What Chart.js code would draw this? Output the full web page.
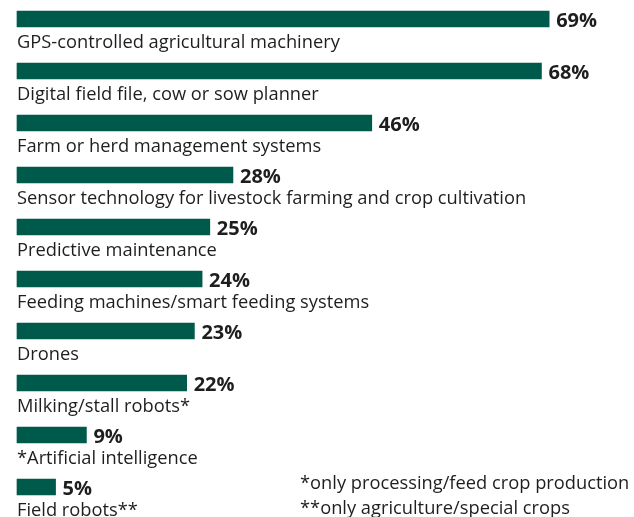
<!DOCTYPE html>
<html>
<head>
<meta charset="utf-8">
<script src="https://cdn.jsdelivr.net/npm/chart.js@4/dist/chart.umd.min.js"></script>
<style>
  html, body { margin: 0; padding: 0; background: #ffffff; }
  #wrap { position: relative; width: 634px; height: 517px; }
</style>
</head>
<body>
<div id="wrap"><canvas id="chart" width="634" height="517"></canvas></div>
<script>
// Digital technologies in use on farms (share of respondents, %)
const categories = [
  'GPS-controlled agricultural machinery',
  'Digital field file, cow or sow planner',
  'Farm or herd management systems',
  'Sensor technology for livestock farming and crop cultivation',
  'Predictive maintenance',
  'Feeding machines/smart feeding systems',
  'Drones',
  'Milking/stall robots*',
  '*Artificial intelligence',
  'Field robots**'
];
const shares = [69, 68, 46, 28, 25, 24, 23, 22, 9, 5];
const footnotes = [
  '*only processing/feed crop production',
  '**only agriculture/special crops'
];

const BAR_COLOR = '#005a4b';
const TEXT_COLOR = '#1e1e1e';
const LABEL_FONT = '18.3px "Open Sans", sans-serif';
const VALUE_FONT = 'bold 20px "Open Sans", sans-serif';

// Category name under each bar, value to the right of it
const barLabels = {
  id: 'barLabels',
  afterDatasetsDraw(chart) {
    const { ctx } = chart;
    const meta = chart.getDatasetMeta(0);
    ctx.save();
    ctx.fillStyle = TEXT_COLOR;
    ctx.textBaseline = 'alphabetic';
    meta.data.forEach((bar, i) => {
      ctx.font = LABEL_FONT;
      ctx.textAlign = 'left';
      ctx.fillText(categories[i], bar.base, bar.y + 29);
      ctx.font = VALUE_FONT;
      ctx.fillText(shares[i] + '%', bar.x + 7, bar.y + 8);
    });
    ctx.font = LABEL_FONT;
    ctx.fillText(footnotes[0], 300, 489);
    ctx.fillText(footnotes[1], 300, 514);
    ctx.restore();
  }
};

new Chart(document.getElementById('chart'), {
  type: 'bar',
  data: {
    labels: categories,
    datasets: [{
      data: shares,
      backgroundColor: BAR_COLOR,
      borderWidth: 0,
      barThickness: 16,
      clip: false
    }]
  },
  options: {
    indexAxis: 'y',
    responsive: false,
    animation: false,
    layout: { padding: { left: 17, right: 0, top: 19, bottom: 30 } },
    plugins: { legend: { display: false }, tooltip: { enabled: false } },
    scales: {
      x: { display: false, min: 0, max: 80 },
      y: { display: false, offset: false }
    }
  },
  plugins: [barLabels]
});
</script>
</body>
</html>
